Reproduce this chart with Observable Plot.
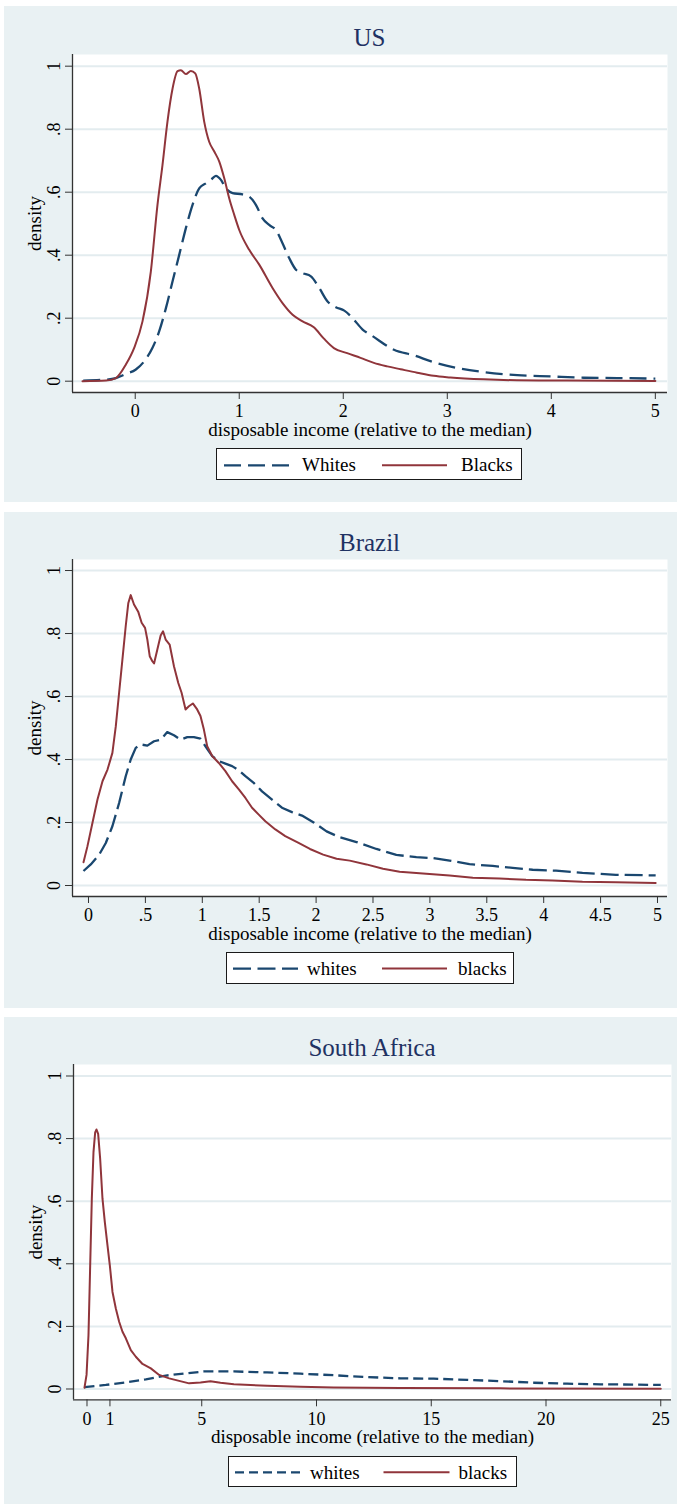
<!DOCTYPE html>
<html>
<head>
<meta charset="utf-8">
<script src="https://cdn.jsdelivr.net/npm/d3@7"></script>
<script src="https://cdn.jsdelivr.net/npm/@observablehq/plot@0.6"></script>
<style>
  body { margin: 0; background: #ffffff; }
  #root { position: relative; width: 677px; height: 1506px; overflow: hidden;
          font-family: "Liberation Serif", "Times New Roman", serif; }
  .panel { position: absolute; background: #e9f1f3; }
  .title { position: absolute; color: #1f3263; font-size: 25px; line-height: 25px;
           text-align: center; white-space: nowrap; }
  .legend { position: absolute; background: #ffffff; border: 1px solid #1a1a1a; box-sizing: border-box; }
  .legend span { position: absolute; font-size: 19px; line-height: 19px; color: #000; white-space: nowrap; }
  .legend svg { position: absolute; left: 0; top: 0; overflow: visible; }
  .chart { position: absolute; left: 0; }
</style>
</head>
<body>
<div id="root"></div>
<script>
// ---------------- data ----------------
const yTicks = [0, 0.2, 0.4, 0.6, 0.8, 1];
const yTickLabels = ["0", ".2", ".4", ".6", ".8", "1"];
const xTitle = "disposable income (relative to the median)";
const yTitle = "density";

// US
const usTicks = [0, 1, 2, 3, 4, 5];
const usTickLabels = ["0", "1", "2", "3", "4", "5"];
const usWhitesX = [-0.5, -0.28, -0.186, -0.09, 0.006, 0.086, 0.166, 0.23, 0.295, 0.359, 0.423, 0.487, 0.551, 0.615, 0.679, 0.727, 0.776, 0.824, 0.872, 0.936, 1.032, 1.096, 1.16, 1.224, 1.288, 1.352, 1.416, 1.48, 1.545, 1.609, 1.689, 1.769, 1.849, 1.929, 2.01, 2.09, 2.186, 2.282, 2.487, 2.679, 2.871, 3.096, 3.352, 3.673, 3.993, 4.313, 4.635, 5.0];
const usWhitesY = [0.002, 0.005, 0.01, 0.023, 0.037, 0.063, 0.106, 0.158, 0.232, 0.317, 0.401, 0.486, 0.56, 0.612, 0.628, 0.639, 0.652, 0.639, 0.612, 0.597, 0.593, 0.586, 0.56, 0.517, 0.496, 0.48, 0.438, 0.391, 0.354, 0.343, 0.333, 0.296, 0.253, 0.235, 0.224, 0.2, 0.164, 0.143, 0.1, 0.082, 0.06, 0.042, 0.029, 0.019, 0.015, 0.011, 0.01, 0.008];
const usBlacksX = [-0.507, -0.28, -0.186, -0.09, -0.01, 0.07, 0.15, 0.214, 0.262, 0.31, 0.359, 0.407, 0.439, 0.487, 0.535, 0.577, 0.615, 0.663, 0.711, 0.76, 0.808, 0.856, 0.904, 0.952, 1.0, 1.096, 1.192, 1.32, 1.416, 1.513, 1.609, 1.717, 1.814, 1.91, 2.038, 2.166, 2.294, 2.423, 2.551, 2.71, 2.87, 3.03, 3.35, 3.67, 4.15, 5.0];
const usBlacksY = [0, 0.002, 0.01, 0.053, 0.106, 0.19, 0.348, 0.56, 0.686, 0.824, 0.929, 0.984, 0.987, 0.975, 0.985, 0.977, 0.929, 0.824, 0.76, 0.729, 0.697, 0.644, 0.58, 0.528, 0.48, 0.417, 0.37, 0.296, 0.248, 0.211, 0.19, 0.171, 0.135, 0.105, 0.089, 0.074, 0.058, 0.047, 0.038, 0.027, 0.017, 0.012, 0.006, 0.003, 0.002, 0.001];

// Brazil
const brTicks = [0, 0.5, 1, 1.5, 2, 2.5, 3, 3.5, 4, 4.5, 5];
const brTickLabels = ["0", ".5", "1", "1.5", "2", "2.5", "3", "3.5", "4", "4.5", "5"];
const brWhitesX = [-0.044, 0.02, 0.094, 0.152, 0.21, 0.269, 0.327, 0.371, 0.415, 0.459, 0.517, 0.576, 0.634, 0.692, 0.751, 0.81, 0.868, 0.926, 0.984, 1.028, 1.087, 1.145, 1.203, 1.262, 1.321, 1.379, 1.452, 1.525, 1.613, 1.7, 1.788, 1.876, 1.975, 2.092, 2.209, 2.355, 2.53, 2.705, 2.881, 3.026, 3.173, 3.348, 3.552, 3.727, 3.903, 4.108, 4.341, 4.634, 4.984];
const brWhitesY = [0.046, 0.067, 0.098, 0.135, 0.188, 0.262, 0.347, 0.4, 0.437, 0.448, 0.444, 0.458, 0.463, 0.487, 0.477, 0.463, 0.471, 0.471, 0.466, 0.442, 0.411, 0.395, 0.387, 0.379, 0.366, 0.347, 0.326, 0.299, 0.273, 0.247, 0.233, 0.222, 0.201, 0.172, 0.153, 0.138, 0.116, 0.097, 0.09, 0.087, 0.079, 0.068, 0.062, 0.056, 0.05, 0.047, 0.04, 0.034, 0.032];
const brBlacksX = [-0.044, -0.009, 0.035, 0.079, 0.123, 0.167, 0.21, 0.24, 0.269, 0.298, 0.327, 0.35, 0.371, 0.4, 0.438, 0.467, 0.497, 0.517, 0.538, 0.561, 0.576, 0.605, 0.634, 0.655, 0.678, 0.713, 0.751, 0.789, 0.818, 0.853, 0.882, 0.917, 0.955, 0.984, 1.014, 1.043, 1.087, 1.145, 1.203, 1.262, 1.321, 1.379, 1.437, 1.496, 1.554, 1.642, 1.729, 1.846, 1.946, 2.062, 2.18, 2.296, 2.442, 2.588, 2.734, 2.968, 3.173, 3.377, 3.611, 3.845, 4.078, 4.341, 4.634, 4.984];
const brBlacksY = [0.074, 0.125, 0.199, 0.273, 0.331, 0.368, 0.421, 0.506, 0.612, 0.717, 0.823, 0.897, 0.922, 0.892, 0.868, 0.834, 0.818, 0.781, 0.728, 0.712, 0.705, 0.749, 0.794, 0.807, 0.781, 0.765, 0.696, 0.643, 0.612, 0.559, 0.569, 0.578, 0.559, 0.538, 0.495, 0.442, 0.411, 0.389, 0.363, 0.331, 0.305, 0.278, 0.247, 0.225, 0.204, 0.178, 0.157, 0.135, 0.116, 0.098, 0.085, 0.079, 0.067, 0.053, 0.044, 0.037, 0.032, 0.025, 0.022, 0.018, 0.016, 0.012, 0.01, 0.008];

// South Africa
const saTicks = [0, 1, 5, 10, 15, 20, 25];
const saTickLabels = ["0", "1", "5", "10", "15", "20", "25"];
const saWhitesX = [-0.11, 0.82, 1.692, 2.563, 3.435, 4.306, 5.09, 6.4, 7.85, 9.3, 10.75, 12.21, 13.66, 15.11, 16.57, 18.02, 19.47, 20.92, 22.37, 23.83, 25];
const saWhitesY = [0.006, 0.013, 0.021, 0.031, 0.043, 0.05, 0.056, 0.056, 0.053, 0.049, 0.044, 0.038, 0.034, 0.033, 0.029, 0.025, 0.02, 0.017, 0.015, 0.014, 0.013];
const saBlacksX = [-0.11, -0.02, 0.065, 0.139, 0.21, 0.283, 0.356, 0.414, 0.486, 0.574, 0.675, 0.777, 0.893, 0.995, 1.111, 1.256, 1.401, 1.547, 1.692, 1.91, 2.128, 2.418, 2.781, 3.145, 3.58, 4.016, 4.452, 4.946, 5.38, 5.816, 6.4, 7.85, 9.3, 10.75, 13.66, 18.02, 25];
const saBlacksY = [0.004, 0.045, 0.172, 0.395, 0.608, 0.757, 0.82, 0.829, 0.815, 0.735, 0.608, 0.533, 0.459, 0.395, 0.31, 0.257, 0.215, 0.183, 0.162, 0.124, 0.103, 0.08, 0.066, 0.045, 0.034, 0.026, 0.018, 0.021, 0.025, 0.02, 0.015, 0.01, 0.007, 0.005, 0.003, 0.002, 0.001];

// ---------------- drawing ----------------
const WHITE_COL = "#1a476f";
const BLACK_COL = "#90353b";
const FONT = '"Liberation Serif", "Times New Roman", serif';
const root = document.getElementById("root");

function zip(xs, ys) { return xs.map((x, i) => ({x, y: ys[i]})); }

function panel(cfg) {
  const bg = document.createElement("div");
  bg.className = "panel";
  Object.assign(bg.style, {left: cfg.bg[0] + "px", top: cfg.bg[1] + "px", width: cfg.bg[2] + "px", height: cfg.bg[3] + "px"});
  root.appendChild(bg);

  const t = document.createElement("div");
  t.className = "title";
  t.textContent = cfg.title;
  Object.assign(t.style, {left: cfg.left + "px", width: (cfg.right - cfg.left) + "px", top: (cfg.top - 8 - 20.9) + "px"});
  root.appendChild(t);

  const mt = 4, mb = 56;
  const W = 677;
  const H = (cfg.bottom - cfg.top) + mt + mb;
  const xLab = new Map(cfg.xTicks.map((d, i) => [d, cfg.xTickLabels[i]]));
  const yLab = new Map(yTicks.map((d, i) => [d, yTickLabels[i]]));
  const chart = Plot.plot({
    width: W, height: H,
    marginLeft: cfg.left, marginRight: W - cfg.right, marginTop: mt, marginBottom: mb,
    style: {background: "transparent", fontFamily: FONT, fontSize: "18px", color: "#000", overflow: "visible"},
    x: {domain: cfg.xDomain},
    y: {domain: cfg.yDomain},
    marks: [
      Plot.frame({fill: "#ffffff", stroke: "none"}),
      Plot.gridY(yTicks, {stroke: "#e3ecef", strokeOpacity: 1, strokeWidth: 2}),
      Plot.ruleX([cfg.xDomain[0]], {stroke: "#333", strokeWidth: 1.3}),
      Plot.ruleY([cfg.yDomain[0]], {stroke: "#333", strokeWidth: 1.3}),
      Plot.axisY(yTicks, {tickSize: 7, tickRotate: -90, tickPadding: 6, tickFormat: d => yLab.get(d), label: null, stroke: "#333", fill: "#000", fontSize: 18}),
      Plot.axisX(cfg.xTicks, {tickSize: 7, tickPadding: 5, tickFormat: d => xLab.get(d), label: null, stroke: "#333", fill: "#000", fontSize: 18}),
      Plot.text([xTitle], {frameAnchor: "bottom", lineAnchor: "middle", textAnchor: "middle", dy: 37, fontSize: 19, fill: "#000"}),
      Plot.text([yTitle], {frameAnchor: "left", lineAnchor: "middle", textAnchor: "middle", dx: -37.5, rotate: -90, fontSize: 19, fill: "#000"}),
      Plot.line(zip(cfg.wx, cfg.wy), {x: "x", y: "y", stroke: WHITE_COL, strokeWidth: 2.3, strokeDasharray: cfg.dash, curve: cfg.curve, strokeLinecap: "butt"}),
      Plot.line(zip(cfg.bx, cfg.by), {x: "x", y: "y", stroke: BLACK_COL, strokeWidth: 2, curve: cfg.curve})
    ]
  });
  chart.classList.add("chart");
  chart.style.position = "absolute";
  chart.style.left = "0px";
  chart.style.top = (cfg.top - mt) + "px";
  root.appendChild(chart);

  const L = cfg.legend;
  const lg = document.createElement("div");
  lg.className = "legend";
  Object.assign(lg.style, {left: L.left + "px", top: L.top + "px", width: L.width + "px", height: L.height + "px"});
  const ns = "http://www.w3.org/2000/svg";
  const s = document.createElementNS(ns, "svg");
  s.setAttribute("width", L.width); s.setAttribute("height", L.height);
  const mk = (x1, x2, col, w, dash) => {
    const ln = document.createElementNS(ns, "line");
    ln.setAttribute("x1", x1); ln.setAttribute("x2", x2);
    ln.setAttribute("y1", L.lineY); ln.setAttribute("y2", L.lineY);
    ln.setAttribute("stroke", col); ln.setAttribute("stroke-width", w);
    if (dash) ln.setAttribute("stroke-dasharray", dash);
    s.appendChild(ln);
  };
  mk(L.l1[0], L.l1[1], WHITE_COL, 2.3, L.dash);
  mk(L.l2[0], L.l2[1], BLACK_COL, 2, null);
  lg.appendChild(s);
  const sp1 = document.createElement("span");
  sp1.textContent = cfg.names[0];
  Object.assign(sp1.style, {left: L.t1 + "px", top: (L.baseline - 16) + "px"});
  const sp2 = document.createElement("span");
  sp2.textContent = cfg.names[1];
  Object.assign(sp2.style, {left: L.t2 + "px", top: (L.baseline - 16) + "px"});
  lg.appendChild(sp1); lg.appendChild(sp2);
  root.appendChild(lg);
}

panel({
  title: "US", bg: [4, 6, 673, 496],
  left: 72, right: 667, top: 54, bottom: 392,
  xDomain: [-0.603, 5.117], yDomain: [-0.0359, 1.0371],
  xTicks: usTicks, xTickLabels: usTickLabels,
  wx: usWhitesX, wy: usWhitesY, bx: usBlacksX, by: usBlacksY,
  dash: "17,7", curve: "monotone-x", names: ["Whites", "Blacks"],
  legend: {left: 216, top: 447.7, width: 306, height: 32.3, lineY: 16.3, l1: [7, 72], l2: [165, 230], t1: 85, t2: 244, baseline: 22, dash: "17,7"}
});
panel({
  title: "Brazil", bg: [4, 512, 673, 496],
  left: 72, right: 667, top: 559, bottom: 896,
  xDomain: [-0.1406, 5.088], yDomain: [-0.0349, 1.035],
  xTicks: brTicks, xTickLabels: brTickLabels,
  wx: brWhitesX, wy: brWhitesY, bx: brBlacksX, by: brBlacksY,
  dash: "18,6", curve: "linear", names: ["whites", "blacks"],
  legend: {left: 226, top: 951.7, width: 288, height: 32.3, lineY: 15.6, l1: [6, 71], l2: [155, 220], t1: 80, t2: 231, baseline: 22, dash: "18,6.5"}
});
panel({
  title: "South Africa", bg: [4, 1017, 673, 487],
  left: 73, right: 671, top: 1064, bottom: 1399.3,
  xDomain: [-0.588, 25.468], yDomain: [-0.0345, 1.0367],
  xTicks: saTicks, xTickLabels: saTickLabels,
  wx: saWhitesX, wy: saWhitesY, bx: saBlacksX, by: saBlacksY,
  dash: "10,5", curve: "linear", names: ["whites", "blacks"],
  legend: {left: 227.5, top: 1455.7, width: 289.3, height: 31.6, lineY: 15.3, l1: [6, 72], l2: [154.5, 220.5], t1: 81.5, t2: 230, baseline: 22, dash: "9,5"}
});
</script>
</body>
</html>
